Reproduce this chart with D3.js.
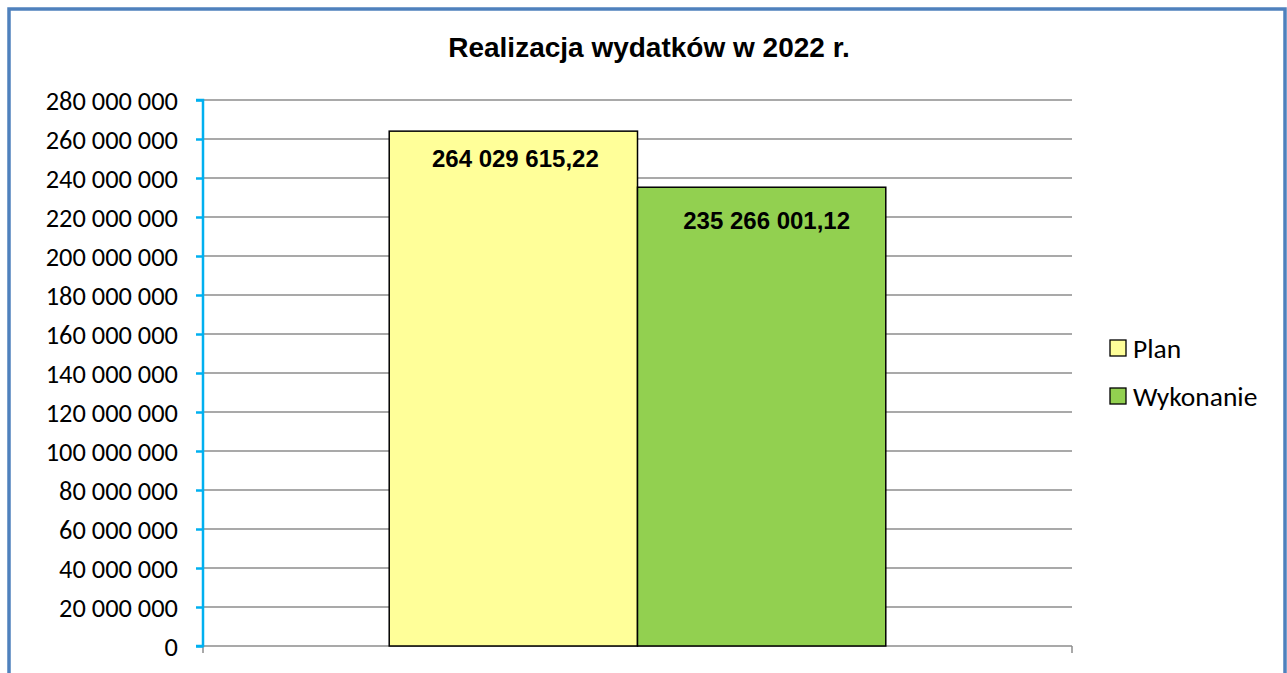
<!DOCTYPE html>
<html><head><meta charset="utf-8">
<script src="https://cdn.jsdelivr.net/npm/d3@7/dist/d3.min.js"></script>
<style>body{margin:0;background:#fff;overflow:hidden;}svg{display:block;}</style>
</head><body>
<script>
const categories = ["2022"];
const seriesNames = ["Plan", "Wykonanie"];
const planValues = [264029615.22];
const wykonanieValues = [235266001.12];
const valueLabels = ["264 029 615,22", "235 266 001,12"];
const yTicks = [0,20000000,40000000,60000000,80000000,100000000,120000000,140000000,160000000,180000000,200000000,220000000,240000000,260000000,280000000];
const colors = ["#FFFF99", "#92D050"];

const W = 1287, H = 673;
const svg = d3.select("body").append("svg").attr("width", W).attr("height", H);

// outer border
svg.append("rect").attr("x", 9).attr("y", 9).attr("width", 1276).attr("height", 680)
  .attr("fill", "#fff").attr("stroke", "#4F81BD").attr("stroke-width", 3.5);

const pLeft = 203, pRight = 1072, pTop = 100, pBottom = 646;
const y = d3.scaleLinear().domain([0, 280000000]).range([pBottom, pTop]);
const x0 = d3.scaleBand().domain(categories).range([pLeft, pRight]).paddingInner(0).paddingOuter(0);
const bandW = x0.bandwidth();
const barW = bandW / (2 + 1.5);
const x1 = d3.scaleBand().domain(seriesNames).range([0, barW * 2]);

// gridlines
svg.append("g").selectAll("line").data(yTicks.filter(d => d > 0)).join("line")
  .attr("x1", pLeft).attr("x2", pRight).attr("y1", d => y(d)).attr("y2", d => y(d))
  .attr("stroke", "#8C8C8C").attr("stroke-width", 1.5);

// x axis
svg.append("line").attr("x1", pLeft).attr("x2", pRight).attr("y1", pBottom).attr("y2", pBottom)
  .attr("stroke", "#8C8C8C").attr("stroke-width", 1.5);
[pLeft, pRight].forEach(xx => svg.append("line").attr("x1", xx).attr("x2", xx)
  .attr("y1", pBottom).attr("y2", pBottom + 7).attr("stroke", "#8C8C8C").attr("stroke-width", 1.5));

// bars
const data = [
  {name: "Plan", value: planValues[0], label: valueLabels[0], color: colors[0]},
  {name: "Wykonanie", value: wykonanieValues[0], label: valueLabels[1], color: colors[1]}
];
const gx = x0(categories[0]) + (bandW - barW * 2) / 2;
const bars = svg.append("g");
bars.selectAll("rect").data(data).join("rect")
  .attr("x", d => gx + x1(d.name)).attr("width", x1.bandwidth())
  .attr("y", d => y(d.value)).attr("height", d => pBottom - y(d.value))
  .attr("fill", d => d.color).attr("stroke", "#000").attr("stroke-width", 1.5);
bars.selectAll("text").data(data).join("text")
  .attr("x", (d, i) => gx + x1(d.name) + x1.bandwidth() / 2 + (i === 0 ? 2 : 5))
  .attr("y", (d, i) => y(d.value) + (i === 0 ? 36 : 42))
  .attr("text-anchor", "middle")
  .attr("font-family", "Liberation Sans, Arial, sans-serif")
  .attr("font-weight", "bold").attr("font-size", 24)
  .text(d => d.label);

// y axis
const yAxis = d3.axisLeft(y).tickValues(yTicks).tickSize(7)
  .tickFormat(d => d3.format(",")(d).replace(/,/g, " "));
const ya = svg.append("g").attr("transform", `translate(${pLeft},0)`).call(yAxis);
ya.select(".domain").attr("stroke", "#00B0F0").attr("stroke-width", 2.5).attr("d", `M-7,${pTop}H0V${pBottom}H-7`);
ya.selectAll(".tick line").attr("stroke", "#00B0F0").attr("stroke-width", 2.5);
ya.selectAll(".tick text").attr("x", -25).attr("dy", "0.36em")
  .attr("font-family", "Carlito, Lato, sans-serif").attr("font-size", 26.4).attr("fill", "#000");

// title
svg.append("text").attr("x", 649).attr("y", 57).attr("text-anchor", "middle")
  .attr("font-family", "Liberation Sans, Arial, sans-serif").attr("font-weight", "bold")
  .attr("font-size", 28).text("Realizacja wydatków w 2022 r.");

// legend
const lg = svg.append("g").selectAll("g").data(data).join("g")
  .attr("transform", (d, i) => `translate(1110,${340 + i * 48})`);
lg.append("rect").attr("width", 16).attr("height", 16).attr("fill", d => d.color)
  .attr("stroke", "#000").attr("stroke-width", 1.3);
lg.append("text").attr("x", 23).attr("y", 8).attr("dy", "0.36em")
  .attr("font-family", "Carlito, Lato, sans-serif").attr("font-size", 27.5).text(d => d.name);
</script>
</body></html>
